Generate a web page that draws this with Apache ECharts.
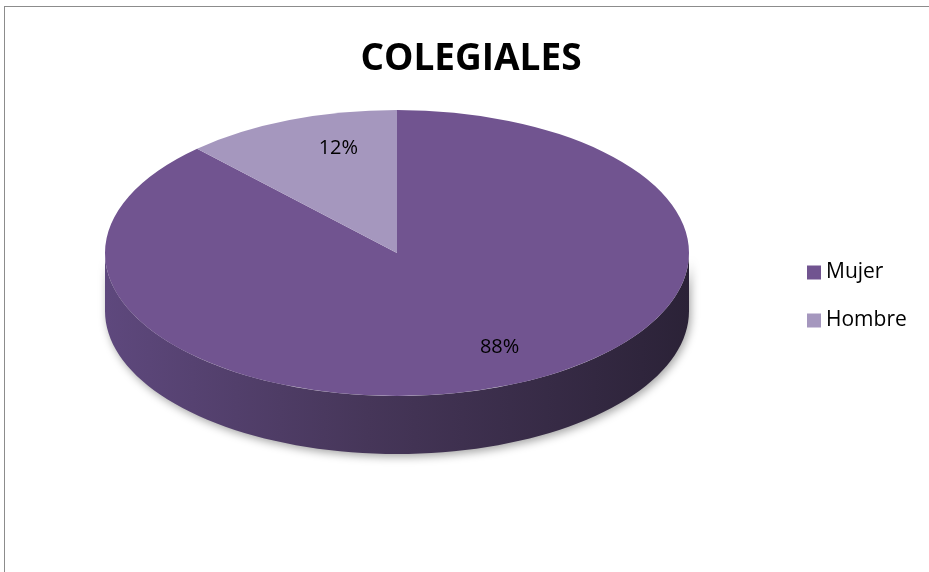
<!DOCTYPE html>
<html>
<head>
<meta charset="utf-8">
<script src="https://cdn.jsdelivr.net/npm/echarts@6/dist/echarts.min.js"></script>
<style>
  html, body { margin: 0; padding: 0; background: #fff; }
  #c1 { width: 929px; height: 572px; }
  #frame { position: absolute; left: 4px; top: 6px; width: 940px; height: 600px;
           border-left: 1px solid #8c8c8c; border-top: 1px solid #8c8c8c; }
</style>
</head>
<body>
<div id="frame"></div>
<div id="c1" style="position:absolute;left:0;top:0"></div>
<script>
// datos del grafico
var categorias = ["Mujer", "Hombre"];
var valores = [88, 12];
var etiquetas = ["88%", "12%"];

var colorTapa = ["#715490", "#a597be"];
var colorLado = [
  ["#5e487d", "#463659", "#2b2237"],
  ["#8e80a8", "#7a6d93", "#5f5574"]
];

// geometria del pastel 3D
var cx = 397, cy = 253, rx = 292, ry = 143, prof = 58;

var total = valores.reduce(function (a, b) { return a + b; }, 0);
var inicio = [];
var acum = 0;
for (var i = 0; i < valores.length; i++) {
  inicio.push(acum);
  acum += valores[i];
}

function angulo(v) {
  // Excel empieza a las 12 y va en sentido horario
  return -Math.PI / 2 + (v / total) * Math.PI * 2;
}

function renderPorcion(idx) {
  return function (params, api) {
    var a0 = angulo(api.value(0));
    var a1 = angulo(api.value(0) + api.value(1));
    var hijos = [];

    // lado frontal (solo la parte visible, angulos 0..PI)
    var rangos = [[a0, a1], [a0 - 2 * Math.PI, a1 - 2 * Math.PI], [a0 + 2 * Math.PI, a1 + 2 * Math.PI]];
    rangos.forEach(function (r) {
      var s = Math.max(r[0], 0), e = Math.min(r[1], Math.PI);
      if (e <= s) return;
      var pts = [];
      var n = 80;
      for (var k = 0; k <= n; k++) {
        var t = s + (e - s) * k / n;
        pts.push([cx + rx * Math.cos(t), cy + ry * Math.sin(t)]);
      }
      for (var k = n; k >= 0; k--) {
        var t = s + (e - s) * k / n;
        pts.push([cx + rx * Math.cos(t), cy + prof + ry * Math.sin(t)]);
      }
      hijos.push({
        type: "polygon",
        z2: 1,
        shape: { points: pts },
        style: {
          fill: new echarts.graphic.LinearGradient(0, 0, 1, 0, [
            { offset: 0, color: colorLado[idx][0] },
            { offset: 0.45, color: colorLado[idx][1] },
            { offset: 1, color: colorLado[idx][2] }
          ]),
          shadowBlur: 8,
          shadowOffsetX: 2,
          shadowOffsetY: 3,
          shadowColor: "rgba(0,0,0,0.35)"
        }
      });
    });

    // tapa superior (circulo escalado a elipse)
    hijos.push({
      type: "group",
      x: cx,
      y: cy,
      scaleY: ry / rx,
      z2: 5,
      children: [{
        type: "sector",
        z2: 5,
        shape: { cx: 0, cy: 0, r: rx, r0: 0, startAngle: a0, endAngle: a1, clockwise: true },
        style: { fill: colorTapa[idx] }
      }]
    });

    // etiqueta de porcentaje
    var am = (a0 + a1) / 2;
    hijos.push({
      type: "text",
      z2: 10,
      x: cx + Math.cos(am) * rx * 0.75 + 22,
      y: cy + Math.sin(am) * ry * 0.75 - 5,
      style: {
        text: etiquetas[idx],
        fill: "#000",
        fontSize: 20,
        fontFamily: "Open Sans",
        align: "center",
        verticalAlign: "middle"
      }
    });

    return { type: "group", children: hijos };
  };
}

var series = categorias.map(function (nombre, i) {
  return {
    name: nombre,
    type: "custom",
    coordinateSystem: "none",
    itemStyle: { color: colorTapa[i] },
    data: [[inicio[i], valores[i]]],
    renderItem: renderPorcion(i),
    silent: true
  };
});

var myChart = echarts.init(document.getElementById("c1"), null, { renderer: "canvas" });
var option = {
  backgroundColor: "transparent",
  animation: false,
  title: {
    text: "COLEGIALES",
    left: 466,
    textAlign: "center",
    top: 36,
    textStyle: {
      color: "#000",
      fontFamily: "Open Sans",
      fontWeight: "bold",
      fontSize: 37
    }
  },
  legend: {
    data: categorias,
    orient: "vertical",
    left: 802,
    top: 257,
    icon: "rect",
    itemWidth: 14,
    itemHeight: 14,
    itemGap: 27,
    textStyle: { color: "#000", fontSize: 21, fontFamily: "Open Sans", padding: [0, 0, 0, 0] }
  },
  series: series
};
myChart.setOption(option);
window.addEventListener("resize", function () {
  myChart.resize();
});
</script>
</body>
</html>
